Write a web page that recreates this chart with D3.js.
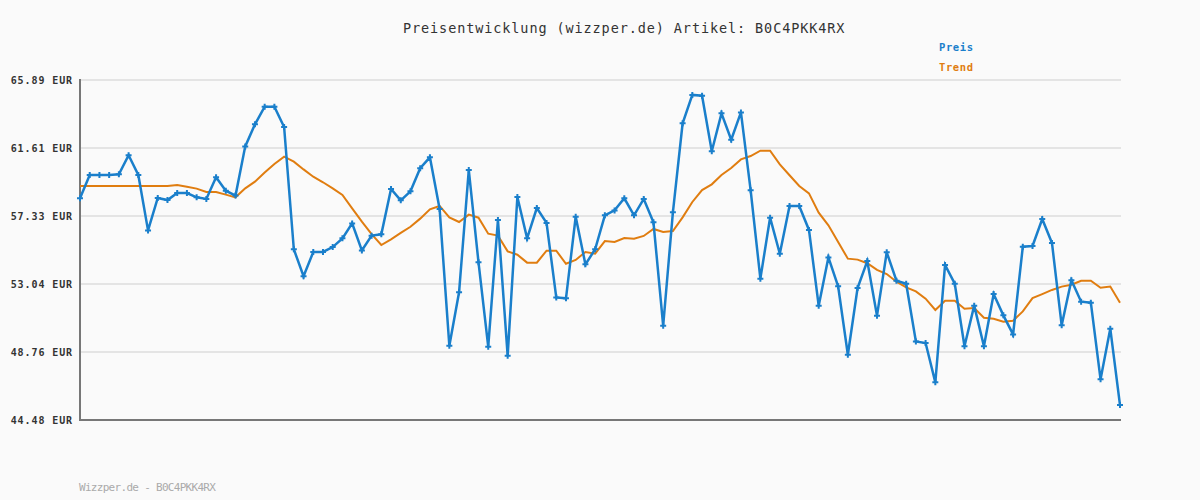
<!DOCTYPE html>
<html>
<head>
<meta charset="utf-8">
<script src="https://cdn.jsdelivr.net/npm/d3@7"></script>
<style>
  body { margin: 0; background: #fafafa; }
  svg { display: block; }
</style>
</head>
<body>
<div id="chart"></div>
<script>
width = 1200;
height = 500;

const preis = [58.44, 59.91, 59.91, 59.91, 59.95, 61.15, 59.91, 56.42, 58.46, 58.33,
  58.77, 58.77, 58.50, 58.40, 59.76, 58.92, 58.61, 61.71, 63.10, 64.21,
  64.21, 62.93, 55.23, 53.53, 55.06, 55.06, 55.37, 55.92, 56.86, 55.16,
  56.09, 56.17, 59.03, 58.31, 58.88, 60.33, 61.02, 57.77, 49.16, 52.52,
  60.22, 54.41, 49.10, 57.07, 48.53, 58.52, 55.92, 57.83, 56.89, 52.20,
  52.14, 57.28, 54.28, 55.23, 57.37, 57.68, 58.44, 57.37, 58.40, 56.93,
  50.42, 57.56, 63.16, 64.95, 64.90, 61.40, 63.79, 62.13, 63.85, 58.94,
  53.38, 57.22, 54.95, 57.96, 57.96, 56.45, 51.68, 54.72, 52.90, 48.59,
  52.79, 54.49, 51.05, 55.04, 53.25, 53.06, 49.43, 49.33, 46.85, 54.24,
  53.06, 49.12, 51.68, 49.12, 52.41, 51.07, 49.87, 55.39, 55.44, 57.14,
  55.63, 50.44, 53.28, 51.93, 51.87, 47.04, 50.23, 45.42];

const trend = [59.22, 59.22, 59.22, 59.22, 59.22, 59.22, 59.22, 59.22, 59.22, 59.22,
  59.28, 59.17, 59.05, 58.84, 58.84, 58.67, 58.50, 59.07, 59.49, 60.06,
  60.60, 61.06, 60.75, 60.26, 59.80, 59.45, 59.07, 58.65, 57.81, 56.97,
  56.19, 55.50, 55.86, 56.26, 56.65, 57.16, 57.75, 57.96, 57.24, 56.95,
  57.41, 57.22, 56.21, 56.09, 55.10, 54.89, 54.39, 54.39, 55.14, 55.14,
  54.32, 54.56, 55.06, 54.95, 55.75, 55.69, 55.94, 55.90, 56.07, 56.51,
  56.32, 56.38, 57.24, 58.21, 58.96, 59.32, 59.91, 60.35, 60.89, 61.10,
  61.44, 61.44, 60.58, 59.89, 59.22, 58.75, 57.54, 56.74, 55.69, 54.64,
  54.58, 54.35, 53.93, 53.67, 53.19, 52.83, 52.58, 52.12, 51.41, 51.99,
  51.99, 51.49, 51.53, 50.92, 50.86, 50.67, 50.73, 51.32, 52.16, 52.41,
  52.67, 52.88, 53.00, 53.25, 53.25, 52.81, 52.88, 51.87];

const yTicks = [44.48, 48.76, 53.04, 57.33, 61.61, 65.89];

const artikel = "B0C4PKK4RX";
const blau = "#1a7fcb";
const orange = "#e07d10";
const mono = "'DejaVu Sans Mono', monospace";

const margin = {top: 80, right: 80, bottom: 80, left: 80};

const svg = d3.select("#chart")
              .append("svg")
              .attr("width", width)
              .attr("height", height);

svg.append("rect")
    .attr("width", width)
    .attr("height", height)
    .attr("fill", "#fafafa");

var x = d3.scaleLinear()
    .domain([0, preis.length - 1])
    .range([margin.left, width - margin.right]);

var y = d3.scaleLinear()
    .domain([44.48, 65.89])
    .range([height - margin.bottom, margin.top]);

// grid
svg.append("g")
  .selectAll("line")
  .data(yTicks.slice(1))
  .enter().append("line")
    .attr("x1", margin.left)
    .attr("x2", width - margin.right + 1)
    .attr("y1", function(d) { return y(d); })
    .attr("y2", function(d) { return y(d); })
    .attr("stroke", "#e4e4e4")
    .attr("stroke-width", 2);

// y axis
var yAxis = d3.axisLeft(y)
    .tickValues(yTicks)
    .tickSize(0)
    .tickPadding(7)
    .tickFormat(function(d) { return d.toFixed(2) + " EUR"; });

var gy = svg.append("g")
    .attr("transform", "translate(" + margin.left + ",0)")
    .call(yAxis);
gy.select(".domain").remove();
gy.selectAll("text")
    .attr("font-family", mono)
    .attr("font-size", 10)
    .attr("letter-spacing", 0.9)
    .attr("font-weight", "bold")
    .attr("fill", "#333");

// axis lines
svg.append("path")
    .attr("d", "M" + margin.left + "," + (y(65.89) - 1) + "V" + y(44.48) + "H" + (width - margin.right + 1))
    .attr("fill", "none")
    .attr("stroke", "#777")
    .attr("stroke-width", 2);

var line = d3.line()
    .x(function(d, i) { return x(i); })
    .y(function(d) { return y(d); });

svg.append("path")
    .datum(trend)
    .attr("d", line)
    .attr("fill", "none")
    .attr("stroke", orange)
    .attr("stroke-width", 2);

svg.append("path")
    .datum(preis)
    .attr("d", line)
    .attr("fill", "none")
    .attr("stroke", blau)
    .attr("stroke-width", 2.5);

// plus markers
var cross = d3.symbol().type(d3.symbolCross).size(20);
svg.append("g")
  .selectAll("path")
  .data(preis)
  .enter().append("path")
    .attr("transform", function(d, i) { return "translate(" + x(i) + "," + y(d) + ")"; })
    .attr("d", cross)
    .attr("fill", blau);

// title
svg.append("text")
    .attr("x", 403)
    .attr("y", 33)
    .attr("font-family", mono)
    .attr("font-size", 13.5)
    .attr("letter-spacing", 0.9)
    .attr("fill", "#333")
    .text("Preisentwicklung (wizzper.de) Artikel: " + artikel);

// legend
svg.append("text")
    .attr("x", 939)
    .attr("y", 51)
    .attr("font-family", mono)
    .attr("font-size", 10.5)
    .attr("letter-spacing", 0.6)
    .attr("font-weight", "bold")
    .attr("fill", blau)
    .text("Preis");

svg.append("text")
    .attr("x", 939)
    .attr("y", 71)
    .attr("font-family", mono)
    .attr("font-size", 10.5)
    .attr("letter-spacing", 0.6)
    .attr("font-weight", "bold")
    .attr("fill", orange)
    .text("Trend");

// footer
svg.append("text")
    .attr("x", 79)
    .attr("y", 491)
    .attr("font-family", mono)
    .attr("font-size", 11)
    .attr("letter-spacing", -0.7)
    .attr("fill", "#aaa")
    .text("Wizzper.de - " + artikel);
</script>
</body>
</html>
